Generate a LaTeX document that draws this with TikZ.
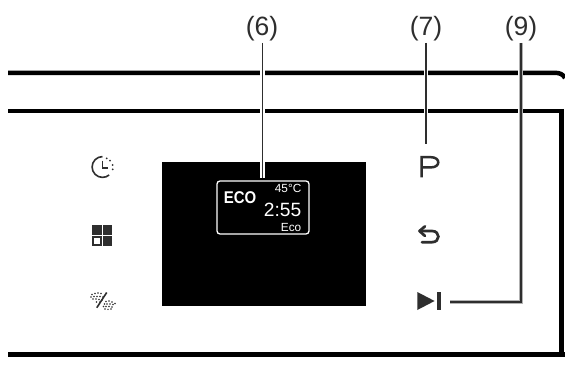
\documentclass[tikz,border=0pt]{standalone}
\usepackage{fontspec}
\setmainfont{Liberation Sans}
\definecolor{ink}{HTML}{2E2E2E}
\newcommand{\fsz}[1]{\fontsize{#1}{#1}\selectfont}
\tikzset{
  x=1pt,y=-1pt,
  frame/.style={line width=4.5pt,black},
  callout/.style={font=\fsz{26.5},text=ink,inner sep=0pt,anchor=base},
  halo/.style={line width=4.6pt,white},
  lead/.style={line width=1.6pt,ink},
  shade/.style={line width=3.6pt,black!30,xshift=.6pt},
  lcd/.style={text=white,inner sep=0pt,anchor=base east}
}
\begin{document}
\begin{tikzpicture}
\useasboundingbox[fill=white] (0,0) rectangle (565,385);
% panel outline
\draw[frame] (8,72.8) -- (555,72.8) .. controls (560,72.8) and (563,74.5) .. (565,78);
\draw[frame] (8,111) -- (563.5,111);
\draw[frame] (561.4,109) -- (561.4,357);
\draw[frame] (8,354.7) -- (565,354.7);
% display
\fill[black] (161.7,162) rectangle (365.7,305.5);
\node[draw=white,line width=1.3pt,rounded corners=3pt,minimum width=92pt,minimum height=53pt,inner sep=0pt] (screen) at (263,207.5) {};
\node[font=\fsz{17}\bfseries,text=white,inner sep=0pt,anchor=base,xscale=.88,transform shape] (eco) at (240,204) {ECO};
\node[lcd,font=\fsz{11.8}] (temp) at (301.5,192.7) {45°C};
\node[lcd,font=\fsz{19.2}] (time) at (301.5,216.7) {2:55};
\node[lcd,font=\fsz{11.8}] (mode) at (301.5,231) {Eco};
% callouts
\node[callout] (c6) at (262,35.5) {(6)};
\node[callout] (c7) at (426,35.5) {(7)};
\node[callout] (c9) at (521,35.5) {(9)};
\coordinate (p7) at (426,144);
\coordinate (p6) at (262.3,177.5);
\coordinate (k9) at (520.7,301.7);
\coordinate (e9) at (449.5,301.7);
\coordinate (s6) at (262.3,43);
\coordinate (s7) at (426,43);
\coordinate (s9) at (520.7,43);
\draw[halo] (s6) -- (p6);
\draw[lead] (s6) -- (p6);
\draw[halo] (s7) -- (p7);
\draw[lead] (s7) -- (p7);
\draw[halo] (s9) -- (k9) -- (e9);
\draw[shade] (s9) -- (k9) -- (e9);
\draw[lead] (s9) -- (k9) -- (e9);
% clock icon
\draw[ink,line width=1.6pt] (102.5,156.6) arc (-90:-310:10.4);
\draw[ink,line width=1.5pt] (102.3,160.7) -- (102.3,168.2) -- (107.7,168.2);
\foreach \px/\py in {106.7/158.3, 110/160.7, 112.7/165, 112.7/169.3} \fill[ink] (\px,\py) circle (1);
% grid icon
\fill[ink] (92.3,225.2) rectangle (101.5,234.8);
\fill[ink] (103,225.2) rectangle (112.4,234.8);
\fill[ink] (103,236.2) rectangle (112.4,245.6);
\draw[ink,line width=1.5pt] (93,237) rectangle (100.8,244.9);
% spray icon
\draw[ink,line width=1.6pt] (106.7,292.5) -- (96.8,307.7);
\foreach \px/\py in {92/294.5, 95/293.5, 98/293, 101/293.5, 91/297, 94/296.5, 97/296.5, 100/296.5, 103/297, 93/299, 96/299, 99/299.5, 102/300,
 96.5/302, 100/302, 106/301.5, 109/301, 112/302, 104.5/304, 107/304, 110/304, 113/304.5, 115/303.5, 103.5/306.5, 106/306.5, 109/306.5, 112/307, 105/309, 108/309.3, 111/309}
  \fill[ink] (\px,\py) circle (.8);
% P
\draw[ink,line width=2.5pt] (421.5,177.3) -- (421.5,157.2) -- (431,157.2) .. controls (440.7,157.2) and (440.7,167.4) .. (431,167.4) -- (421.5,167.4);
% back icon
\draw[ink,line width=2.7pt,line cap=round] (420,231) -- (432,231) .. controls (440.5,231) and (440.5,242.2) .. (432,242.2) -- (422,242.2);
\draw[ink,line width=2.7pt,line cap=round,line join=round] (425,226.3) -- (419.5,231) -- (425,236);
% play-pause
\fill[ink] (417.3,292) -- (434.6,301) -- (417.3,310) -- cycle;
\fill[ink] (436.8,292) rectangle (441,310);
\end{tikzpicture}
\end{document}
